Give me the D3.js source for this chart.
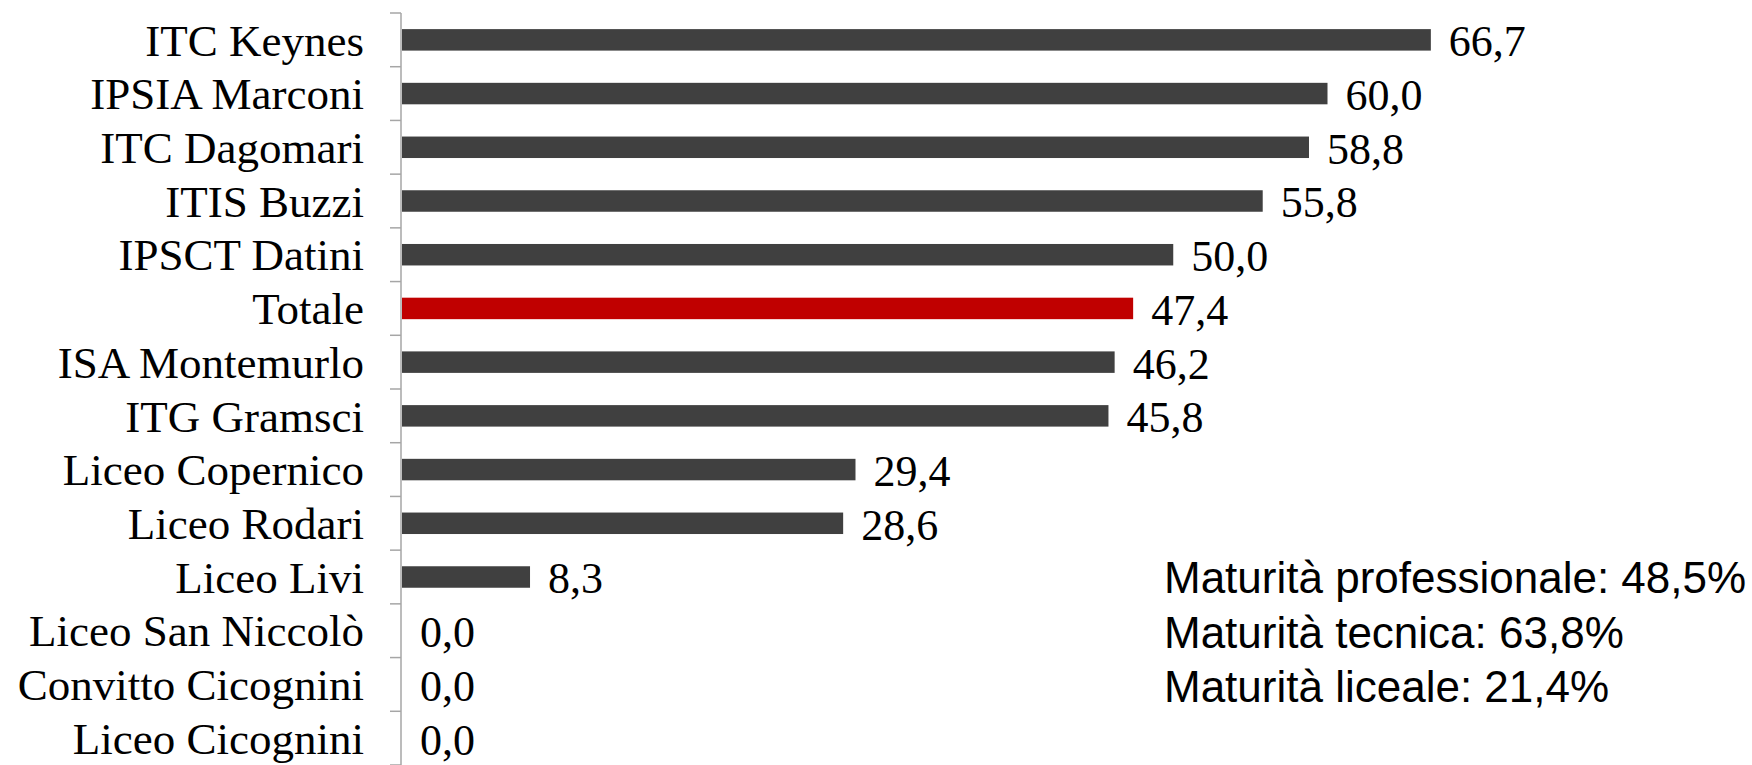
<!DOCTYPE html>
<html><head><meta charset="utf-8">
<script src="https://cdn.jsdelivr.net/npm/d3@7"></script>
<style>html,body{margin:0;padding:0;background:#fff;}</style>
</head><body>
<svg id="chart" width="1752" height="765"></svg>
<script>
const categories = ["ITC Keynes","IPSIA Marconi","ITC Dagomari","ITIS Buzzi","IPSCT Datini","Totale","ISA Montemurlo","ITG Gramsci","Liceo Copernico","Liceo Rodari","Liceo Livi","Liceo San Niccolò","Convitto Cicognini","Liceo Cicognini"];
const values = [66.7,60.0,58.8,55.8,50.0,47.4,46.2,45.8,29.4,28.6,8.3,0.0,0.0,0.0];
const highlight = "Totale";
const notes = ["Maturità professionale: 48,5%","Maturità tecnica: 63,8%","Maturità liceale: 21,4%"];

const svg = d3.select("#chart");
const x = d3.scaleLinear().domain([0,80]).range([402,1636]);
const y = d3.scaleBand().domain(categories).range([13,765]).paddingInner(0.6).paddingOuter(0.3);
const fmt = v => v.toFixed(1).replace(".", ",");

// axis
const axisX = 401;
const axis = d3.axisLeft(y).tickSize(0).tickFormat("");
const g = svg.append("g").attr("transform",`translate(${axisX},0)`).call(axis);
g.select(".domain").attr("stroke","#a6a6a6").attr("stroke-width",1.5).attr("d",`M0,13V765`);
// boundary tick marks
const bounds = d3.range(categories.length+1).map(i => 13 + i*(752/categories.length));
g.selectAll("line.bt").data(bounds).enter().append("line")
  .attr("x1",-11).attr("x2",0).attr("y1",d=>d).attr("y2",d=>d)
  .attr("stroke","#a6a6a6").attr("stroke-width",1.5);

// category labels
svg.append("g").selectAll("text").data(categories).enter().append("text")
  .attr("x",364).attr("y",d=>y(d)+y.bandwidth()/2)
  .attr("dy","0.35em").attr("text-anchor","end")
  .attr("font-family","'Liberation Serif', serif").attr("font-size",45)
  .attr("fill","#000").text(d=>d);

// bars
svg.append("g").selectAll("rect").data(categories).enter().append("rect")
  .attr("x",x(0)).attr("y",d=>y(d))
  .attr("width",(d,i)=>x(values[i])-x(0)).attr("height",y.bandwidth())
  .attr("fill",d=>d===highlight?"#c00000":"#404040");

// value labels
svg.append("g").selectAll("text").data(categories).enter().append("text")
  .attr("x",(d,i)=>x(values[i])+18).attr("y",d=>y(d)+y.bandwidth()/2+1)
  .attr("dy","0.35em")
  .attr("font-family","'Liberation Serif', serif").attr("font-size",44)
  .attr("fill","#000").text((d,i)=>fmt(values[i]));

// notes
svg.append("g").selectAll("text").data(notes).enter().append("text")
  .attr("x",1164).attr("y",(d,i)=>578+i*54.5)
  .attr("dy","0.35em")
  .attr("font-family","'Liberation Sans', sans-serif").attr("font-size",44)
  .attr("fill","#000").text(d=>d);
</script>
</body></html>
